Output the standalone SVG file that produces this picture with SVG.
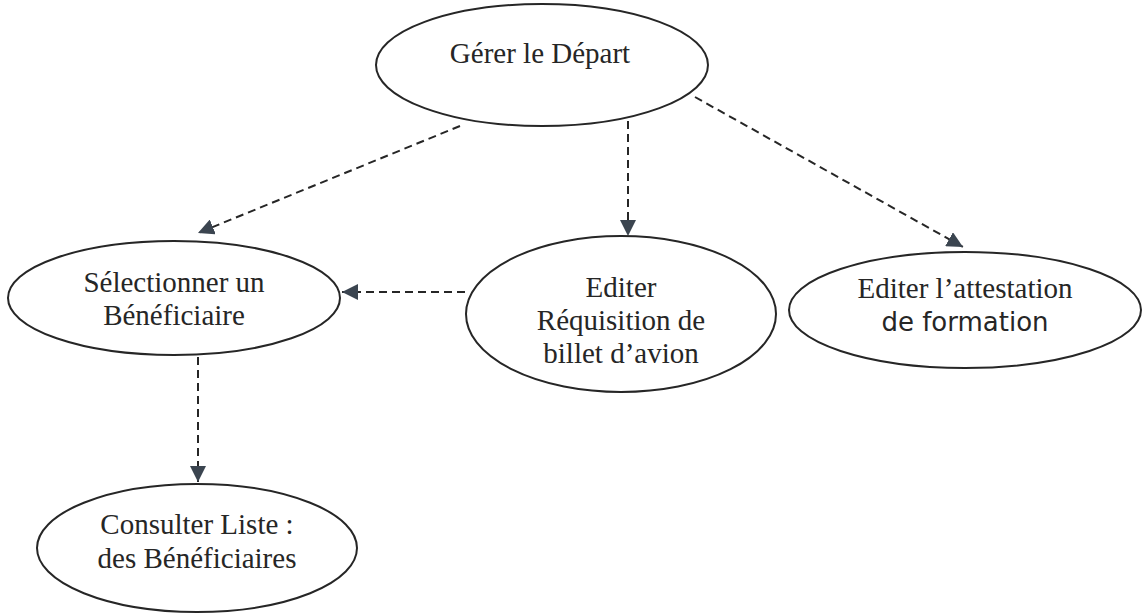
<svg xmlns="http://www.w3.org/2000/svg" width="1144" height="615" viewBox="0 0 1144 615">
  <style>
    .uc { fill: #ffffff; stroke: #262626; stroke-width: 2; }
    .lbl { font-family: "Liberation Serif", "Times New Roman", serif; font-size: 29px; fill: #262626; text-anchor: middle; }
    .lbl-sans { font-family: "DejaVu Sans", "Liberation Sans", sans-serif; font-size: 26px; fill: #262626; text-anchor: middle; }
    .dep { fill: none; stroke: #262626; stroke-width: 2; stroke-dasharray: 8 5; }
  </style>
  <defs>
    <marker id="head" markerUnits="userSpaceOnUse" markerWidth="18" markerHeight="16" refX="16" refY="8" orient="auto">
      <path d="M0,0 L16,8 L0,16 z" fill="#3b4550"/>
    </marker>
  </defs>
  <rect width="1144" height="615" fill="#ffffff"/>

  <!-- dependency connectors -->
  <g id="connectors">
    <line class="dep" x1="460" y1="126" x2="198" y2="233" marker-end="url(#head)"/>
    <line class="dep" x1="628" y1="121" x2="628" y2="236" marker-end="url(#head)"/>
    <line class="dep" x1="695" y1="97" x2="963" y2="247" marker-end="url(#head)"/>
    <line class="dep" x1="465" y1="292" x2="342" y2="292" marker-end="url(#head)"/>
    <line class="dep" x1="198" y1="357" x2="198" y2="482" marker-end="url(#head)"/>
  </g>

  <g id="gerer-depart">
    <ellipse class="uc" cx="542" cy="65" rx="166" ry="61"/>
    <text class="lbl" x="540" y="63">Gérer le Départ</text>
  </g>

  <g id="selectionner-beneficiaire">
    <ellipse class="uc" cx="174" cy="298" rx="166" ry="57"/>
    <text class="lbl" x="174" y="292">Sélectionner un</text>
    <text class="lbl" x="174" y="325">Bénéficiaire</text>
  </g>

  <g id="editer-requisition">
    <ellipse class="uc" cx="621" cy="314" rx="155" ry="78"/>
    <text class="lbl" x="621" y="297">Editer</text>
    <text class="lbl" x="621" y="330">Réquisition de</text>
    <text class="lbl" x="621" y="363">billet d’avion</text>
  </g>

  <g id="editer-attestation">
    <ellipse class="uc" cx="965" cy="310" rx="176" ry="58"/>
    <text class="lbl" x="965" y="298">Editer l’attestation</text>
    <text class="lbl-sans" x="965" y="331">de formation</text>
  </g>

  <g id="consulter-liste">
    <ellipse class="uc" cx="197" cy="548" rx="160" ry="64"/>
    <text class="lbl" x="197" y="534">Consulter Liste :</text>
    <text class="lbl" x="197" y="568">des Bénéficiaires</text>
  </g>
</svg>
